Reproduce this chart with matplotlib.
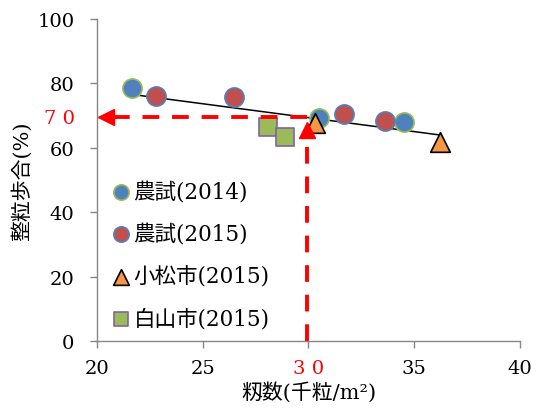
import matplotlib
matplotlib.use("Agg")
import matplotlib.pyplot as plt

plt.rcParams['font.family'] = ['DejaVu Serif', 'Noto Sans CJK JP']

# data
nouji14_x = [21.65, 30.5, 34.5]
nouji14_y = [78.5, 69.4, 67.9]
nouji15_x = [22.8, 26.5, 31.7, 33.6]
nouji15_y = [76.1, 75.7, 70.6, 68.4]
komatsu_x = [30.3, 36.2]
komatsu_y = [67.6, 61.7]
hakusan_x = [28.1, 28.9]
hakusan_y = [66.4, 63.5]
trend_x = [21.65, 36.2]
trend_y = [76.6, 64.0]
target_x = 30
target_y = 70
xticks = [20, 25, 30, 35, 40]
xticklabels = ['20', '25', '3 0', '35', '40']
yticks = [0, 20, 40, 60, 70, 80, 100]
yticklabels = ['0', '20', '40', '60', '7 0', '80', '100']

fig = plt.figure(figsize=(5.44, 4.10), dpi=100)
ax = fig.add_axes([0.178, 0.166, 0.778, 0.785])

ax.plot(trend_x, trend_y, color='black', lw=1.1, zorder=2)
ax.scatter(nouji14_x, nouji14_y, s=190, c='#4F81BD', edgecolors='#9BBB59',
           linewidths=1.2, label='農試(2014)', zorder=3)
ax.scatter(nouji15_x, nouji15_y, s=190, c='#C0504D', edgecolors='#4F81BD',
           linewidths=1.2, label='農試(2015)', zorder=3)
ax.scatter(komatsu_x, komatsu_y, s=200, marker='^', c='#F79646',
           edgecolors='black', linewidths=1.2, label='小松市(2015)', zorder=4)
ax.scatter(hakusan_x, hakusan_y, s=180, marker='s', c='#9BBB59',
           edgecolors='#8064A2', linewidths=1.2, label='白山市(2015)', zorder=3)

# red guide arrows
red = '#FF0000'
ax.plot([target_x - 0.05, 20.8], [target_y - 0.3, target_y - 0.3], color=red,
        lw=2.8, dashes=(4.3, 3.3), zorder=5)
ax.plot([20.45], [target_y - 0.3], marker='<', ms=12, color=red, zorder=5,
        clip_on=False)
ax.plot([target_x - 0.05, target_x - 0.05], [0, 64.5], color=red, lw=2.8,
        dashes=(4.3, 3.3), zorder=5)
ax.plot([target_x - 0.05], [65.6], marker='^', ms=12, color=red, zorder=5)

ax.set_xlim(20, 40)
ax.set_ylim(0, 100)
ax.set_xticks(xticks)
ax.set_xticklabels(xticklabels)
ax.set_yticks(yticks)
ax.set_yticklabels(yticklabels)
ax.tick_params(labelsize=14, color='#868686', length=5, width=1)
ax.tick_params(axis='x', pad=8)
ax.tick_params(axis='y', pad=11)
ax.get_xticklabels()[2].set_color(red)
ax.get_yticklabels()[4].set_color(red)
ax.yaxis.get_major_ticks()[4].tick1line.set_visible(False)

for side in ['top', 'right']:
    ax.spines[side].set_visible(False)
for side in ['left', 'bottom']:
    ax.spines[side].set_color('#868686')
    ax.spines[side].set_linewidth(1)

ax.set_xlabel('籾数(千粒/m²)', fontsize=15, labelpad=3)
ax.set_ylabel('整粒歩合(%)', fontsize=15, labelpad=4)

ax.legend(loc='lower left', bbox_to_anchor=(0.0, -0.005), frameon=False,
          fontsize=15.5, markerscale=0.8, handletextpad=0.1, labelspacing=0.95,
          borderaxespad=0.2, handlelength=1.0)

fig.savefig('out.png', dpi=100)
